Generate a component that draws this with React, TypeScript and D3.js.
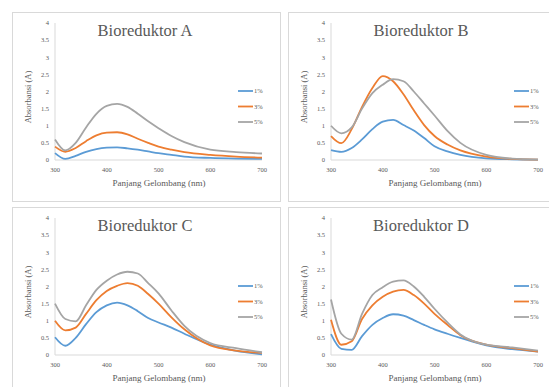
import React from "react";
import { scaleLinear, line, curveMonotoneX } from "d3";

// wavelength sample points (nm)
const wl = [300, 320, 340, 360, 380, 400, 420, 440, 460, 480, 500, 525, 550, 600, 650, 700];

const seriesNames = ["1%", "3%", "5%"];
const colors = ["#5B9BD5", "#ED7D31", "#A5A5A5"];

const xTicks = [300, 400, 500, 600, 700];
const yTicks = [0, 0.5, 1, 1.5, 2, 2.5, 3, 3.5, 4];

// absorbance values per panel, per series, at each wl point
const bioA = [
  [0.2, 0.03, 0.12, 0.24, 0.32, 0.36, 0.37, 0.34, 0.3, 0.25, 0.2, 0.15, 0.1, 0.06, 0.04, 0.03],
  [0.39, 0.24, 0.35, 0.55, 0.72, 0.8, 0.81, 0.75, 0.62, 0.5, 0.39, 0.3, 0.23, 0.15, 0.1, 0.07],
  [0.6, 0.28, 0.5, 0.95, 1.35, 1.58, 1.64, 1.55, 1.35, 1.13, 0.93, 0.7, 0.52, 0.3, 0.23, 0.19],
];
const bioB = [
  [0.29, 0.24, 0.35, 0.6, 0.9, 1.12, 1.17, 1.02, 0.86, 0.64, 0.4, 0.25, 0.15, 0.05, 0.02, 0.01],
  [0.7, 0.49, 0.9, 1.55, 2.1, 2.45, 2.3, 1.92, 1.45, 1.02, 0.7, 0.45, 0.28, 0.1, 0.03, 0.01],
  [1.0, 0.78, 0.95, 1.5, 1.95, 2.2, 2.36, 2.3, 2.0, 1.65, 1.3, 0.85, 0.5, 0.15, 0.04, 0.01],
];
const bioC = [
  [0.52, 0.27, 0.5, 0.9, 1.25, 1.45, 1.53, 1.45, 1.28, 1.08, 0.95, 0.8, 0.62, 0.3, 0.12, 0.02],
  [1.0, 0.72, 0.8, 1.2, 1.6, 1.87, 2.02, 2.1, 2.02, 1.78, 1.5, 1.1, 0.75, 0.28, 0.13, 0.06],
  [1.5, 1.05, 0.98, 1.45, 1.9, 2.17, 2.35, 2.43, 2.38, 2.1, 1.8, 1.3, 0.85, 0.35, 0.2, 0.08],
];
const bioD = [
  [0.61, 0.18, 0.15, 0.55, 0.88, 1.08, 1.19, 1.15, 1.02, 0.88, 0.75, 0.62, 0.5, 0.28, 0.17, 0.1],
  [1.03, 0.3, 0.4, 1.05, 1.45, 1.7, 1.85, 1.9, 1.75, 1.5, 1.2, 0.88, 0.58, 0.3, 0.2, 0.1],
  [1.62, 0.62, 0.45, 1.2, 1.75, 1.98, 2.14, 2.18, 2.0, 1.7, 1.35, 0.95, 0.6, 0.3, 0.22, 0.13],
];

const panels = [
  { title: "Bioreduktor A", data: bioA, left: 12, top: 12 },
  { title: "Bioreduktor B", data: bioB, left: 288, top: 12 },
  { title: "Bioreduktor C", data: bioC, left: 12, top: 207 },
  { title: "Bioreduktor D", data: bioD, left: 288, top: 207 },
];

const serif = "'Liberation Serif', 'Times New Roman', serif";
const textColor = "#595959";

function Panel({ title, data, left, top }) {
  const w = 268,
    h = 189;
  const x = scaleLinear().domain([300, 700]).range([43, 250]);
  const y = scaleLinear().domain([0, 4]).range([148, 11]);

  const gen = line<number>()
    .x((d, i) => x(wl[i]))
    .y(d => y(d))
    .curve(curveMonotoneX);

  return (
    <g transform={`translate(${left}, ${top})`}>
      <rect x={0.5} y={0.5} width={w} height={h} fill="#fff" stroke="#d9d9d9" />
      <line x1={x(300)} x2={x(700)} y1={y(0)} y2={y(0)} stroke="#d9d9d9" />
      <line x1={x(300)} x2={x(300)} y1={y(0)} y2={y(4)} stroke="#d9d9d9" />
      {yTicks.map(t => (
        <text
          key={t}
          x={37}
          y={y(t)}
          dy="0.35em"
          textAnchor="end"
          fontSize={6.5}
          fontFamily={serif}
          fill={textColor}
        >
          {t}
        </text>
      ))}
      {xTicks.map(t => (
        <text
          key={t}
          x={x(t)}
          y={160}
          textAnchor="middle"
          fontSize={6.5}
          fontFamily={serif}
          fill={textColor}
        >
          {t}
        </text>
      ))}
      {data.map((vals, i) => (
        <path
          key={i}
          d={gen(vals)}
          fill="none"
          stroke={colors[i]}
          strokeWidth={1.8}
          strokeLinejoin="round"
        />
      ))}
      <text x={133} y={24} textAnchor="middle" fontSize={16.5} fontFamily={serif} fill={textColor}>
        {title}
      </text>
      <text
        transform={`translate(16, ${85}) rotate(-90)`}
        textAnchor="middle"
        dy="0.35em"
        fontSize={8.5}
        fontFamily={serif}
        fill={textColor}
      >
        Absorbansi (A)
      </text>
      <text x={147} y={174} textAnchor="middle" fontSize={9} fontFamily={serif} fill={textColor}>
        Panjang Gelombang (nm)
      </text>
      {seriesNames.map((s, i) => (
        <g key={s} transform={`translate(226, ${79 + i * 15.5})`}>
          <line x1={0} x2={15} y1={0} y2={0} stroke={colors[i]} strokeWidth={1.8} />
          <text x={16} y={0} dy="0.35em" fontSize={6.5} fontFamily={serif} fill={textColor}>
            {s}
          </text>
        </g>
      ))}
    </g>
  );
}

export default function App() {
  return (
    <svg width={549} height={387} style={{ position: "absolute", left: 0, top: 0 }}>
      <rect width={549} height={387} fill="#fff" />
      {panels.map(p => (
        <Panel key={p.title} {...p} />
      ))}
    </svg>
  );
}
